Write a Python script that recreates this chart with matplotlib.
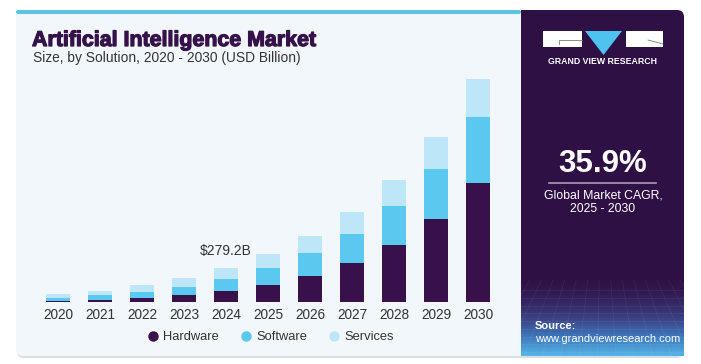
import numpy as np
import matplotlib.pyplot as plt
import matplotlib.patheffects as pe
from matplotlib.patches import FancyBboxPatch, Rectangle, Polygon
from matplotlib.colors import LinearSegmentedColormap

plt.rcParams['font.family'] = ['Liberation Sans', 'DejaVu Sans']

# data (USD billion)
years = ['2020', '2021', '2022', '2023', '2024', '2025', '2026', '2027', '2028', '2029', '2030']
hardware = [11, 19, 33, 57, 90, 138, 212, 317, 464, 673, 969]
software = [24, 38, 51, 68, 95, 138, 185, 236, 317, 412, 535]
services = [30, 35, 52, 73, 94, 114, 141, 179, 212, 260, 309]
series_names = ['Hardware', 'Software', 'Services']
colors = ['#38104a', '#5bc8f0', '#bde7f8']
label_year = '2024'
label_text = '$279.2B'
cagr = '35.9%'

W, H = 701, 364
fig = plt.figure(figsize=(W / 100, H / 100), dpi=100)
fig.patch.set_facecolor('white')

# background layer in pixel coordinates
bg = fig.add_axes([0, 0, 1, 1])
bg.set_xlim(0, W)
bg.set_ylim(H, 0)
bg.axis('off')

# card shadow + card
bg.add_patch(FancyBboxPatch((17, 11), 666, 347, boxstyle='round,pad=0,rounding_size=7',
                            fc='#d9dde3', ec='none'))
bg.add_patch(FancyBboxPatch((16, 10), 666, 346, boxstyle='round,pad=0,rounding_size=7',
                            fc='#f2f7fc', ec='none'))
# right panel
panel_col = '#2f1045'
bg.add_patch(FancyBboxPatch((521, 10), 163, 346, boxstyle='round,pad=0,rounding_size=7',
                            fc=panel_col, ec='none'))
bg.add_patch(Rectangle((521, 10), 10, 346, fc=panel_col, ec='none'))
# gradient at bottom of the panel
grad_cmap = LinearSegmentedColormap.from_list('g', [panel_col, '#3a3d80', '#3f7cbf', '#55b6e6'])
grad = np.linspace(0, 1, 100).reshape(-1, 1) ** 1.6
bg.imshow(grad, cmap=grad_cmap, extent=[521, 684, 356, 276], aspect='auto', zorder=1)
for gy in np.linspace(290, 352, 9):
    bg.plot([521, 684], [gy, gy], color='white', alpha=0.06, lw=0.6, zorder=2)
for gx in np.linspace(530, 680, 14):
    bg.plot([gx, 602 + (gx - 602) * 1.6], [280, 356], color='white', alpha=0.06, lw=0.6, zorder=2)

# top blue stripe on the left part
bg.add_patch(FancyBboxPatch((16, 10), 505, 4, boxstyle='round,pad=0,rounding_size=2',
                            fc='#5bc3e6', ec='none'))

# title
bg.text(32, 46, 'Artificial Intelligence Market', fontsize=15.4, fontweight='bold',
        color='#35124a', va='baseline', ha='left',
        path_effects=[pe.withStroke(linewidth=0.9, foreground='#35124a')])
bg.text(33, 62, 'Size, by Solution, 2020 - 2030 (USD Billion)', fontsize=9.9,
        color='#333333', va='baseline', ha='left')

# logo
bg.add_patch(Rectangle((543, 31), 39, 16, fc='white', ec='none', zorder=3))
bg.add_patch(Polygon([[585, 31], [622, 31], [603.5, 55]], closed=True, fc='#4ec3ef', ec='none', zorder=3))
bg.add_patch(Rectangle((626, 31), 37, 16, fc='white', ec='none', zorder=3))
bg.plot([559, 559, 582], [44, 40, 40], color='#777777', lw=0.6, zorder=4)
bg.plot([648, 663], [40, 44], color='#777777', lw=0.6, zorder=4)
bg.text(603, 62, 'GRAND VIEW RESEARCH', fontsize=6.3, fontweight='bold', color='white',
        ha='center', va='center', zorder=4)

# CAGR
bg.text(603, 164, cagr, fontsize=22.5, fontweight='bold', color='white', ha='center', va='center', zorder=4)
bg.plot([549, 656], [183, 183], color='#a99bb8', lw=1.2, zorder=4)
bg.text(603, 195, 'Global Market CAGR,', fontsize=8.8, color='white', ha='center', va='center', zorder=4)
bg.text(603, 209, '2025 - 2030', fontsize=8.8, color='white', ha='center', va='center', zorder=4)

# source
bg.text(535, 326, 'Source:', fontsize=8, fontweight='bold', color='white', ha='left', va='center', zorder=4)
bg.text(535, 339, 'www.grandviewresearch.com', fontsize=8, color='white', ha='left', va='center', zorder=4)

# chart
ax = fig.add_axes([37 / W, (H - 302) / H, 462 / W, 232 / H])
ax.set_facecolor('none')
x = np.arange(len(years))
bottom = np.zeros(len(years))
for vals, name, col in zip([hardware, software, services], series_names, colors):
    ax.bar(x, vals, width=0.55, bottom=bottom, color=col, label=name)
    bottom += np.array(vals)
ax.set_xlim(-0.5, len(years) - 0.5)
ax.set_ylim(0, 232 * 8.14)
ax.set_xticks(x)
ax.set_xticklabels(years, fontsize=9.8, color='#333333')
ax.tick_params(axis='x', length=0, pad=4)
ax.set_yticks([])
for s in ax.spines.values():
    s.set_visible(False)

i = years.index(label_year)
ax.annotate(label_text, (x[i], bottom[i]), xytext=(0, 7), textcoords='offset points',
            ha='center', va='bottom', fontsize=10, color='#333333')

# legend
leg = fig.legend(handles=[plt.Line2D([], [], marker='o', ls='', color=c, markersize=6.5) for c in colors],
                 labels=series_names, loc='center', bbox_to_anchor=(270 / W, 1 - 337 / H),
                 ncol=3, frameon=False, fontsize=9.3, handletextpad=0.3, columnspacing=1.6,
                 handlelength=1.0, labelcolor='#333333')

fig.savefig('out.png', dpi=100, facecolor='white')
